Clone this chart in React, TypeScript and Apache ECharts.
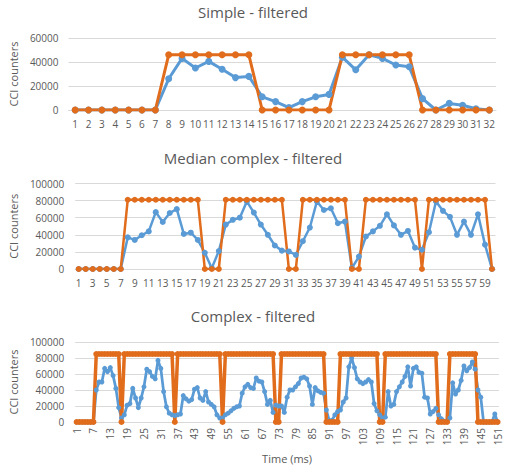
import React, { useEffect, useRef } from "react";
import * as echarts from "echarts";

// ---------- Simple - filtered ----------
const simpleCats = ["1","2","3","4","5","6","7","8","9","10","11","12","13","14","15","16","17","18","19","20","21","22","23","24","25","26","27","28","29","30","31","32"];
const simpleBlue = [0,0,0,0,0,0,0,26000,43000,35000,40500,34000,27000,28000,11000,7000,2000,7000,11000,13000,44000,33500,46000,43000,37500,36000,9500,0,5500,4000,1000,0];
const simpleOrange = [0,0,0,0,0,0,0,46000,46000,46000,46000,46000,46000,46000,0,0,0,0,0,0,46000,46000,46000,46000,46000,46000,0,0,0,0,0,0];

// ---------- Median complex - filtered ----------
const medianCats = ["1","2","3","4","5","6","7","8","9","10","11","12","13","14","15","16","17","18","19","20","21","22","23","24","25","26","27","28","29","30","31","32","33","34","35","36","37","38","39","40","41","42","43","44","45","46","47","48","49","50","51","52","53","54","55","56","57","58","59","60"];
const medianBlue = [0,0,0,0,0,0,0,37000,34000,39500,44000,66500,55000,65500,70000,41000,42500,34000,19000,1000,21000,52000,57500,60000,79000,66000,52000,40000,27500,21500,20500,16500,32500,48500,79000,69000,71000,53500,55500,1000,14500,38000,44000,50500,64000,51000,40000,44500,25000,22500,43000,79000,68000,61000,40000,55500,40000,64000,28500,0];
const medianOrange = [0,0,0,0,0,0,0,81000,81000,81000,81000,81000,81000,81000,81000,81000,81000,81000,0,0,0,81000,81000,81000,81000,81000,81000,81000,81000,81000,0,0,81000,81000,81000,81000,81000,81000,81000,0,0,81000,81000,81000,81000,81000,81000,81000,81000,0,81000,81000,81000,81000,81000,81000,81000,81000,81000,0];

// ---------- Complex - filtered ----------
const complexCats = ["1","2","3","4","5","6","7","8","9","10","11","12","13","14","15","16","17","18","19","20","21","22","23","24","25","26","27","28","29","30","31","32","33","34","35","36","37","38","39","40","41","42","43","44","45","46","47","48","49","50","51","52","53","54","55","56","57","58","59","60","61","62","63","64","65","66","67","68","69","70","71","72","73","74","75","76","77","78","79","80","81","82","83","84","85","86","87","88","89","90","91","92","93","94","95","96","97","98","99","100","101","102","103","104","105","106","107","108","109","110","111","112","113","114","115","116","117","118","119","120","121","122","123","124","125","126","127","128","129","130","131","132","133","134","135","136","137","138","139","140","141","142","143","144","145","146","147","148","149","150","151"];
const complexBlue = [
  0,0,0,0,0,0,0,40000,50000,50000,
  67000,63000,68000,58000,42000,18000,5000,9000,21000,23000,
  42000,30000,18000,30000,44000,66000,63000,57000,54000,77000,
  67000,38000,19000,11000,9000,8000,9000,10000,33000,29000,
  26000,28000,41000,43000,30000,27000,38000,25000,22000,19000,
  9000,5000,5000,9000,11000,14000,17000,19000,20000,36000,
  44000,47000,43000,42000,55000,51000,50000,38000,22000,27000,
  12000,21000,20000,20000,12000,31000,40000,40000,44000,48000,
  55000,56000,54000,45000,22000,43000,39000,37000,36000,15000,
  2000,2000,9000,13000,15000,25000,30000,69000,80000,68000,
  54000,50000,48000,50000,53000,50000,23000,14000,9000,5000,
  6000,38000,20000,22000,38000,44000,50000,57000,69000,45000,
  67000,69000,62000,61000,31000,30000,10000,13000,17000,9000,
  4000,1000,1000,5000,49000,35000,40000,52000,70000,64000,
  68000,75000,66000,40000,31000,0,0,0,0,10000,
  0
];
const complexOrange = [
  0,0,0,0,0,0,0,85000,85000,85000,
  85000,85000,85000,85000,85000,85000,0,85000,85000,85000,
  85000,85000,85000,85000,85000,85000,85000,85000,85000,85000,
  85000,85000,85000,85000,85000,0,85000,85000,85000,85000,
  85000,85000,85000,85000,85000,85000,85000,85000,85000,85000,
  85000,85000,0,85000,85000,85000,85000,85000,85000,85000,
  85000,85000,85000,85000,85000,85000,85000,85000,85000,85000,
  85000,0,0,85000,85000,85000,85000,85000,85000,85000,
  85000,85000,85000,85000,85000,85000,85000,85000,85000,0,
  0,0,0,0,85000,85000,85000,85000,85000,85000,
  85000,85000,85000,85000,85000,85000,85000,85000,0,0,
  85000,85000,85000,85000,85000,85000,85000,85000,85000,85000,
  85000,85000,85000,85000,85000,85000,85000,85000,85000,0,
  0,0,0,85000,85000,85000,85000,85000,85000,85000,
  85000,85000,85000,0,0,0,0,0,0,0,
  0
];

const titles = ["Simple - filtered", "Median complex - filtered", "Complex - filtered"];
const yAxisName = "CCI counters";
const xAxisName = "Time (ms)";

const BLUE = "#5B9BD5";
const ORANGE = "#E06C1C";
const TEXT = "#595959";
const GRID = "#d9d9d9";
const FONT = "Open Sans";

export default function App() {
  const ref = useRef<HTMLDivElement>(null);
  useEffect(() => {
    if (!ref.current) return;
    const chart = echarts.init(ref.current, undefined, { renderer: "svg" });
    const titleStyle = { fontSize: 15, fontWeight: "normal", color: TEXT, fontFamily: FONT, lineHeight: 15 };
    const tickStyle = { fontSize: 10, color: TEXT, fontFamily: FONT };
    const nameStyle = { fontSize: 11, color: TEXT, fontFamily: FONT };
    const mkX = (gi: number, data: string[], extra: any) => ({
      type: "category",
      gridIndex: gi,
      data,
      boundaryGap: true,
      axisLine: { lineStyle: { color: GRID, width: 1 } },
      axisTick: { show: false },
      ...extra,
    });
    const mkY = (gi: number, max: number, gap: number, margin: number) => ({
      type: "value",
      gridIndex: gi,
      min: 0,
      max,
      interval: 20000,
      axisLine: { show: false },
      axisTick: { show: false },
      splitLine: { lineStyle: { color: GRID, width: 1 } },
      axisLabel: { ...tickStyle, margin, formatter: (v: number) => String(v) },
      name: yAxisName,
      nameLocation: "middle",
      nameGap: gap,
      nameTextStyle: nameStyle,
    });
    const mkS = (gi: number, data: number[], color: string, width: number, size: number) => ({
      type: "line",
      xAxisIndex: gi,
      yAxisIndex: gi,
      data,
      symbol: "circle",
      symbolSize: size,
      showSymbol: true,
      showAllSymbol: true,
      lineStyle: { color, width },
      itemStyle: { color },
      emphasis: { disabled: true },
    });
    chart.setOption({
      animation: false,
      backgroundColor: "#ffffff",
      textStyle: { fontFamily: FONT },
      title: [
        { text: titles[0], left: "center", top: 4, padding: 0, textStyle: titleStyle },
        { text: titles[1], left: "center", top: 150, padding: 0, textStyle: titleStyle },
        { text: titles[2], left: "center", top: 308, padding: 0, textStyle: titleStyle },
      ],
      grid: [
        { left: 67, right: 10, top: 38, height: 72 },
        { left: 73, right: 10.5, top: 183.5, height: 85.5 },
        { left: 72.6, right: 7, top: 342, height: 80 },
      ],
      xAxis: [
        mkX(0, simpleCats, { axisLabel: { ...tickStyle, interval: 0, margin: 9 } }),
        mkX(1, medianCats, { axisLabel: { ...tickStyle, interval: 1, margin: 9 } }),
        mkX(2, complexCats, {
          axisLabel: { ...tickStyle, interval: 5, rotate: 90, margin: 6 },
          name: xAxisName,
          nameLocation: "middle",
          nameGap: 31,
          nameTextStyle: nameStyle,
        }),
      ],
      yAxis: [mkY(0, 60000, 39, 10), mkY(1, 100000, 45, 11), mkY(2, 100000, 45, 11)],
      series: [
        mkS(0, simpleBlue, BLUE, 3, 7),
        mkS(0, simpleOrange, ORANGE, 3, 7),
        mkS(1, medianBlue, BLUE, 2.5, 6),
        mkS(1, medianOrange, ORANGE, 2.5, 6),
        mkS(2, complexBlue, BLUE, 2.75, 5),
        mkS(2, complexOrange, ORANGE, 3.5, 6),
      ],
    });
    return () => chart.dispose();
  }, []);
  return (
    <div
      ref={ref}
      style={{ position: "absolute", left: 0, top: 0, width: 506, height: 469, background: "#fff" }}
    />
  );
}
